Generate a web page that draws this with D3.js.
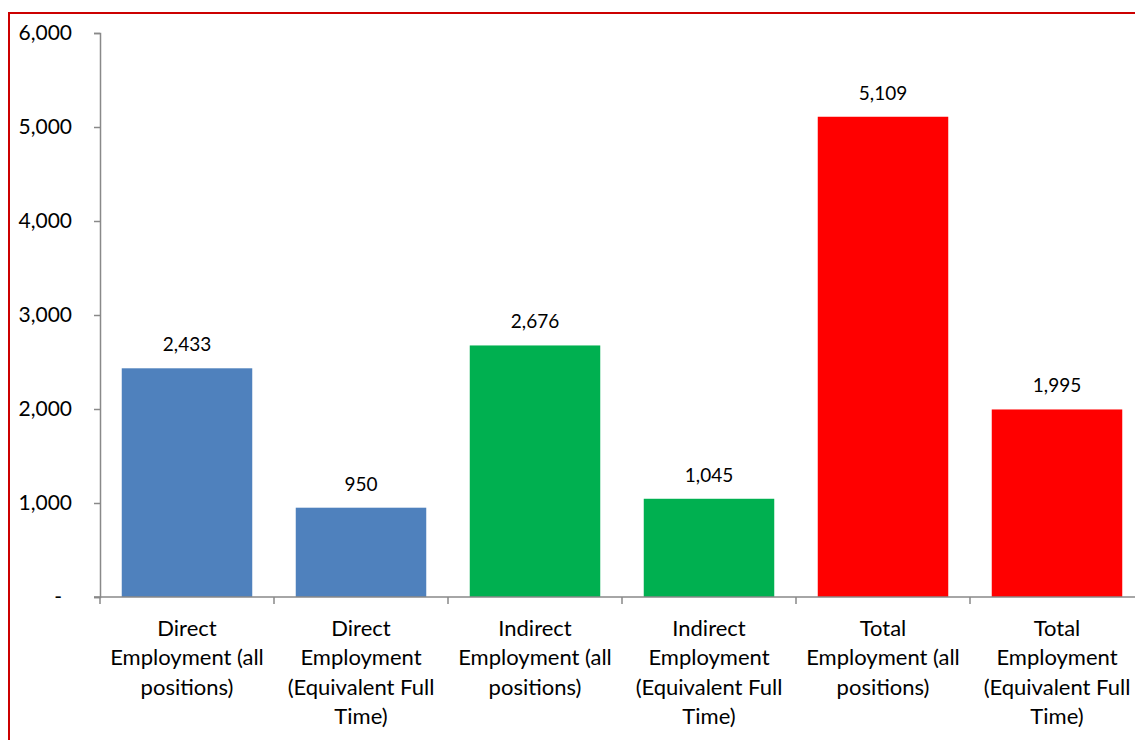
<!DOCTYPE html>
<html>
    <head>
        <script src="https://d3js.org/d3.v7.min.js"></script>
        <style>
            body { margin: 0; background: #fff; }
            #myCanvas { display: block; }
        </style>
    </head>
    <body>
        <svg id="myCanvas" width="1135" height="740"></svg>

        <script>
            // chart data
            var categories = [
                ["Direct", "Employment (all", "positions)"],
                ["Direct", "Employment", "(Equivalent Full", "Time)"],
                ["Indirect", "Employment (all", "positions)"],
                ["Indirect", "Employment", "(Equivalent Full", "Time)"],
                ["Total", "Employment (all", "positions)"],
                ["Total", "Employment", "(Equivalent Full", "Time)"]
            ];
            var values = [2433, 950, 2676, 1045, 5109, 1995];
            var barColors = ["#4F81BD", "#4F81BD", "#00B050", "#00B050", "#FF0000", "#FF0000"];
            var yTicks = [0, 1000, 2000, 3000, 4000, 5000, 6000];

            var font = "Lato, 'Open Sans', sans-serif";
            var svg = d3.select("#myCanvas");

            // red frame of the chart area
            svg.append("rect")
                .attr("x", 9).attr("y", 13)
                .attr("width", 1140).attr("height", 740)
                .attr("fill", "none")
                .attr("stroke", "#CC0000")
                .attr("stroke-width", 2);

            var x = d3.scaleBand()
                .domain(d3.range(categories.length))
                .range([100, 100 + 174 * 6])
                .paddingInner(0.25)
                .paddingOuter(0.125);
            var y = d3.scaleLinear([0, 6000], [597, 33]);

            var fmt = d3.format(",");

            // y axis
            var yAxis = svg.append("g")
                .attr("transform", "translate(100,0)")
                .call(d3.axisLeft(y).tickValues(yTicks).tickSize(6).tickPadding(22)
                    .tickFormat(d => d == 0 ? "-" : fmt(d)));
            yAxis.select(".domain").attr("stroke", "#898989").attr("stroke-width", 1.5);
            yAxis.selectAll(".tick line").attr("stroke", "#898989").attr("stroke-width", 1.5);
            yAxis.selectAll(".tick text")
                .attr("fill", "#000")
                .style("font-family", font)
                .style("font-size", "21px")
                .attr("dx", d => d == 0 ? -10 : 0);

            // bars
            svg.selectAll("rect.bar")
                .data(values)
                .join("rect")
                .attr("class", "bar")
                .attr("x", (d, i) => x(i))
                .attr("y", d => y(d))
                .attr("width", x.bandwidth())
                .attr("height", d => y(0) - y(d))
                .attr("fill", (d, i) => barColors[i]);

            // value labels
            svg.selectAll("text.val")
                .data(values)
                .join("text")
                .attr("class", "val")
                .attr("x", (d, i) => x(i) + x.bandwidth() / 2)
                .attr("y", d => y(d) - 17)
                .attr("text-anchor", "middle")
                .style("font-family", font)
                .style("font-size", "19px")
                .text(d => fmt(d));

            // x axis line and category ticks
            var step = x.step();
            svg.append("line")
                .attr("x1", 94).attr("x2", 1135)
                .attr("y1", y(0)).attr("y2", y(0))
                .attr("stroke", "#898989").attr("stroke-width", 1.5);
            svg.selectAll("line.xt")
                .data(d3.range(categories.length + 1))
                .join("line")
                .attr("class", "xt")
                .attr("x1", i => 100 + i * step).attr("x2", i => 100 + i * step)
                .attr("y1", y(0)).attr("y2", y(0) + 7)
                .attr("stroke", "#898989").attr("stroke-width", 1.5);

            // category labels
            svg.selectAll("text.cat")
                .data(categories)
                .join("text")
                .attr("class", "cat")
                .attr("text-anchor", "middle")
                .style("font-family", font)
                .style("font-size", "22px")
                .each(function(lines, i) {
                    d3.select(this).selectAll("tspan")
                        .data(lines)
                        .join("tspan")
                        .attr("x", x(i) + x.bandwidth() / 2)
                        .attr("y", (l, j) => 636 + j * 29.3)
                        .text(l => l);
                });
        </script>
    </body>
</html>
